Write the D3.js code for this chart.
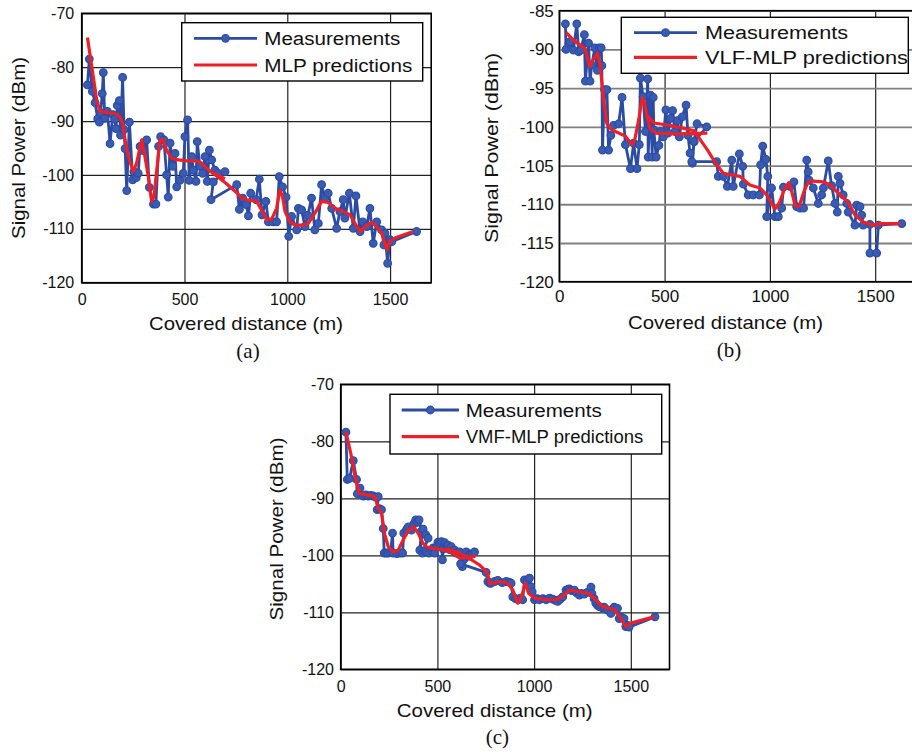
<!DOCTYPE html>
<html><head><meta charset="utf-8">
<script src="https://cdn.jsdelivr.net/npm/d3@7"></script>
<style>
body{margin:0;background:#fff;}
svg{display:block;}
text{font-family:"Liberation Sans",Arial,Helvetica,sans-serif;fill:#111;}
.cap{font-family:"Liberation Serif","Times New Roman",serif;}
</style></head>
<body><svg id="chart" width="912" height="752"></svg>
<script>
// ---------- DATA ----------
const xTicks = [0, 500, 1000, 1500];
const yTicksA = [-120, -110, -100, -90, -80, -70];
const yTicksB = [-120, -115, -110, -105, -100, -95, -90, -85];
const yTicksC = [-120, -110, -100, -90, -80, -70];

// Panel (a): measurements
const measDistA = [28,37,52,65,78,86,92,100,105,112,125,138,151,160,167,173,183,189,199,206,211,219,232,248,254,265,275,284,300,316,329,349,361,374,384,400,413,421,430,443,454,462,478,494,502,515,523,535,543,556,562,575,588,600,611,621,632,648,664,697,640,629,754,767,783,800,811,822,848,864,877,896,908,932,948,961,977,994,1007,1021,1046,1054,1070,1086,1100,1118,1134,1151,1167,1183,1199,1216,1240,1256,1272,1280,1302,1321,1334,1354,1367,1386,1402,1418,1435,1459,1470,1475,1488,1499,1508,1629];
const measPowA = [-83.3,-78.5,-84.5,-86.6,-89.6,-90.2,-88.5,-84.9,-81.0,-89.5,-88.2,-94.2,-88.8,-89.6,-91.4,-87.1,-86.2,-92.6,-81.9,-91.6,-95.1,-102.9,-90.2,-100.9,-99.4,-100.5,-99.7,-94.7,-95.5,-93.5,-102.3,-105.4,-105.4,-94.7,-92.9,-93.5,-100.0,-104.1,-94.1,-98.4,-96.0,-102.2,-101.0,-99.7,-92.9,-89.8,-101.0,-96.6,-99.1,-101.2,-93.8,-98.4,-99.7,-96.6,-101.2,-95.4,-97.2,-99.1,-99.7,-99.4,-101.3,-104.6,-101.8,-106.4,-104.3,-105.5,-107.6,-103.4,-104.6,-100.8,-107.4,-104.9,-108.7,-108.7,-108.7,-100.3,-102.2,-104.1,-111.4,-107.7,-110.2,-106.2,-106.5,-109.6,-107.5,-104.3,-110.2,-109.0,-101.8,-104.3,-103.4,-106.2,-109.9,-106.8,-104.6,-108.0,-103.4,-109.9,-103.9,-110.5,-108.7,-109.6,-106.2,-112.7,-108.7,-110.2,-113.0,-110.8,-116.4,-112.0,-112.4,-110.5];
// Panel (a): MLP predictions (null = break between passes)
const predDistA = [28,49,73,89,122,162,186,199,211,227,251,267,292,305,324,340,352,365,381,397,413,438,470,511,559,584,608,640,697,null,620,660,700,760,770,803,851,875,900,924,948,964,977,989,1013,1037,1078,1102,1134,1167,1199,1232,1272,1305,1329,1354,1378,1410,1435,1459,1486,1496,1523,1613];
const predPowA = [-74.5,-79.9,-86.1,-88.2,-88.4,-88.6,-89.2,-90.4,-93.5,-96.6,-99.4,-97.8,-93.5,-96.0,-100.3,-104.9,-104.0,-99.1,-93.5,-93.5,-95.4,-96.9,-97.2,-97.4,-97.4,-97.8,-98.8,-99.7,-100.7,null,-99.2,-100.3,-101.5,-103.5,-104.0,-104.6,-104.9,-106.5,-108.3,-108.2,-106.2,-102.8,-104.0,-106.8,-108.7,-109.3,-109.3,-109.0,-107.1,-104.9,-105.1,-106.2,-106.8,-107.4,-109.0,-110.5,-109.6,-108.8,-109.6,-110.8,-113.9,-112.4,-111.7,-110.5];

// Panel (b): measurements
const measDistB = [29,32,45,51,67,83,92,102,119,124,139,146,154,169,181,190,199,202,205,215,226,234,245,258,282,298,314,338,353,369,380,385,398,409,420,422,433,441,446,449,460,473,481,494,506,516,529,538,549,560,570,584,602,611,621,632,640,654,700,640,629,747,755,779,798,819,826,855,871,874,897,921,950,956,966,981,990,985,1008,1024,1040,1056,1064,1095,1114,1127,1143,1160,1175,1182,1187,1206,1230,1246,1254,1277,1293,1309,1320,1325,1333,1348,1365,1372,1404,1412,1428,1436,1443,1475,1475,1507,1515,1626];
const measPowB = [-86.7,-90.0,-89.2,-89.0,-90.1,-86.7,-90.3,-90.1,-88.1,-94.1,-89.2,-94.1,-92.0,-89.8,-92.7,-89.8,-89.8,-92.1,-103.0,-95.2,-95.2,-103.0,-101.1,-99.8,-99.6,-96.2,-102.3,-105.4,-102.1,-105.4,-102.3,-93.7,-96.1,-100.6,-93.8,-103.9,-95.9,-103.9,-96.2,-100.4,-103.9,-102.4,-100.6,-101.3,-97.8,-100.8,-98.9,-97.9,-100.6,-99.2,-101.3,-98.7,-97.2,-101.1,-103.4,-104.7,-101.9,-99.6,-100.0,-101.9,-104.5,-104.5,-106.4,-106.4,-107.7,-104.3,-107.7,-103.5,-105.1,-107.4,-108.8,-108.8,-108.8,-104.9,-102.5,-104.2,-106.4,-111.6,-107.9,-111.6,-111.6,-110.5,-107.8,-107.7,-107.1,-110.3,-110.5,-110.5,-104.3,-105.8,-106.9,-107.9,-109.9,-108.8,-107.9,-104.4,-107.6,-109.9,-111.0,-106.4,-107.3,-108.8,-109.9,-111.0,-112.7,-110.1,-110.3,-111.4,-112.7,-112.6,-116.3,-116.3,-112.7,-112.5];
// Panel (b): VLF-MLP predictions
const predDistB = [32,67,123,143,162,181,194,210,226,250,282,314,345,358,377,393,404,417,433,460,560,703,null,420,450,545,640,660,704,747,779,858,905,953,985,1024,1045,1070,1090,1105,1120,1140,1160,1180,1206,1254,1285,1333,1372,1404,1443,1491,1523,1618];
const predPowB = [-87.8,-88.8,-89.9,-92.2,-91.3,-90.5,-92.0,-96.5,-99.6,-100.4,-100.8,-101.2,-102.3,-101.7,-99.1,-96.3,-96.8,-98.7,-100.3,-100.8,-100.9,-100.8,null,-98.6,-99.5,-99.9,-100.5,-101.3,-103.0,-104.9,-106.0,-106.4,-107.5,-107.9,-108.8,-110.6,-109.8,-108.0,-107.2,-108.5,-110.2,-110.2,-108.5,-107.2,-107.0,-107.1,-107.5,-108.8,-109.7,-111.4,-112.3,-112.7,-112.5,-112.5];

// Panel (c): measurements
const measDistC = [27,34,46,65,82,86,100,117,130,143,155,168,180,194,189,200,211,220,225,236,246,258,268,271,290,306,320,326,340,349,366,378,388,398,405,417,409,426,440,452,423,433,443,456,469,478,486,495,503,512,521,526,530,538,547,555,563,572,580,589,598,606,615,629,636,649,658,667,680,692,620,752,761,770,778,795,812,835,856,870,881,890,904,916,930,941,950,963,976,983,990,1002,1015,1027,1045,1062,1080,1096,1110,1122,1135,1148,1165,1175,1182,1195,1208,1220,1234,1245,1259,1275,1294,1299,1310,1319,1328,1337,1350,1362,1380,1397,1414,1431,1440,1452,1465,1474,1483,1491,1625];
const measPowC = [-78.4,-86.7,-86.5,-83.4,-86.7,-89.2,-88.2,-89.6,-89.4,-89.6,-89.5,-89.6,-89.8,-89.7,-92.0,-91.8,-92.0,-95.3,-99.6,-99.6,-99.6,-99.5,-96.1,-99.6,-99.7,-99.6,-99.6,-96.1,-95.5,-95.0,-95.6,-94.5,-93.8,-94.2,-93.8,-95.8,-99.1,-95.4,-96.4,-97.0,-99.6,-99.2,-99.4,-99.6,-99.1,-98.7,-99.6,-98.5,-97.7,-98.0,-97.6,-100.8,-98.9,-97.8,-98.4,-98.2,-99.0,-98.5,-99.2,-99.1,-99.6,-99.5,-99.4,-102.0,-100.8,-99.4,-100.2,-99.9,-99.7,-99.4,-101.5,-103.0,-104.6,-104.9,-104.9,-104.6,-104.4,-104.8,-104.6,-104.7,-104.9,-107.3,-107.6,-107.8,-107.5,-107.8,-104.3,-104.5,-104.0,-105.5,-106.4,-107.8,-107.6,-107.8,-107.6,-107.8,-107.5,-107.7,-107.9,-108.1,-107.7,-107.3,-106.1,-106.0,-105.9,-106.2,-106.1,-106.6,-107.0,-106.7,-106.8,-106.5,-105.6,-106.7,-107.6,-108.4,-108.8,-109.0,-109.2,-109.1,-109.6,-110.2,-109.1,-109.3,-111.1,-110.9,-111.1,-112.5,-112.3,-112.6,-110.8];
// Panel (c): VMF-MLP predictions
const predDistC = [27,52,74,96,134,177,194,211,228,246,271,297,323,349,378,400,426,443,478,546,581,615,697,null,546,598,649,718,758,770,787,821,864,890,916,933,954,972,1002,1062,1113,1156,1182,1234,1285,1319,1354,1414,1448,1474,1500,1620];
const predPowC = [-78.4,-82.1,-86.2,-89.1,-89.4,-89.7,-91.8,-92.6,-96.4,-98.5,-99.4,-99.1,-97.3,-95.6,-95.0,-96.1,-97.9,-98.5,-98.8,-99.1,-99.6,-100.5,-100.2,null,-98.8,-99.4,-100.2,-101.7,-103.0,-104.9,-104.9,-104.6,-104.9,-106.1,-108.4,-107.5,-104.9,-106.7,-107.5,-107.8,-107.8,-107.0,-106.1,-106.4,-106.7,-107.8,-109.0,-109.5,-111.1,-112.5,-111.9,-110.8];

const legendA = ["Measurements", "MLP predictions"];
const legendB = ["Measurements", "VLF-MLP predictions"];
const legendC = ["Measurements", "VMF-MLP predictions"];
const xTitle = "Covered distance (m)";
const yTitle = "Signal Power (dBm)";

// ---------- DRAW ----------
const BLUE = "#2c4ca4", BLUE_FILL = "#3a5bb2", RED = "#ee1f26";
const svg = d3.select("#chart");

function zipPts(xs, ys){ return xs.map((x,i)=> (x==null||ys[i]==null) ? null : [x, ys[i]]); }

function panel(cfg){
  const g = svg.append("g");
  const x = d3.scaleLinear().domain([0,1700]).range([cfg.left, cfg.left + cfg.w]);
  const y = d3.scaleLinear().domain(cfg.ydom).range([cfg.top + cfg.h, cfg.top]);

  const ax = g.append("g").attr("transform", `translate(0,${cfg.top+cfg.h})`)
    .call(d3.axisBottom(x).tickValues(xTicks).tickSizeInner(-cfg.h).tickSizeOuter(0).tickPadding(cfg.xpad).tickFormat(d3.format("d")));
  ax.select(".domain").remove();
  ax.selectAll("line").attr("stroke", cfg.vgrid).attr("stroke-width", cfg.vgw);
  ax.selectAll("text").attr("font-size", cfg.tickFs).attr("fill","#111")
    .attr("font-family",'"Liberation Sans",Arial,sans-serif');

  const ay = g.append("g").attr("transform", `translate(${cfg.left},0)`)
    .call(d3.axisLeft(y).tickValues(cfg.yticks).tickSizeInner(-cfg.w).tickSizeOuter(0).tickPadding(cfg.ypad).tickFormat(d=>String(d)));
  ay.select(".domain").remove();
  ay.selectAll("line").attr("stroke", cfg.hgrid).attr("stroke-width", cfg.hgw);
  ay.selectAll("text").attr("font-size", cfg.tickFs).attr("fill","#111")
    .attr("font-family",'"Liberation Sans",Arial,sans-serif');

  g.append("rect").attr("x", cfg.left).attr("y", cfg.top).attr("width", cfg.w).attr("height", cfg.h)
    .attr("fill","none").attr("stroke","#000").attr("stroke-width",1.6);

  const line = d3.line().defined(d=>d!=null).x(d=>x(d[0])).y(d=>y(d[1]));
  const meas = zipPts(cfg.md, cfg.mp);
  const pred = zipPts(cfg.pd, cfg.pp);

  g.append("path").datum(meas).attr("d", line).attr("fill","none")
    .attr("stroke", BLUE).attr("stroke-width", 2.8).attr("stroke-linejoin","round");
  g.selectAll("circle.m").data(meas).join("circle").attr("class","m")
    .attr("cx", d=>x(d[0])).attr("cy", d=>y(d[1])).attr("r", 3.8)
    .attr("fill", BLUE_FILL).attr("stroke", BLUE).attr("stroke-width", 1.2);
  g.append("path").datum(pred).attr("d", line).attr("fill","none")
    .attr("stroke", RED).attr("stroke-width", 3.2).attr("stroke-linejoin","round");

  const L = cfg.leg;
  g.append("rect").attr("x", L.x0).attr("y", L.y0).attr("width", L.x1-L.x0).attr("height", L.y1-L.y0)
    .attr("fill","#fff").attr("stroke","#000").attr("stroke-width",1.4);
  g.append("line").attr("x1", L.s0).attr("x2", L.s1).attr("y1", L.r1).attr("y2", L.r1)
    .attr("stroke", BLUE).attr("stroke-width", 2.8);
  g.append("circle").attr("cx", (L.s0+L.s1)/2).attr("cy", L.r1).attr("r", 3.8)
    .attr("fill", BLUE_FILL).attr("stroke", BLUE).attr("stroke-width", 1.2);
  g.append("line").attr("x1", L.s0).attr("x2", L.s1).attr("y1", L.r2).attr("y2", L.r2)
    .attr("stroke", RED).attr("stroke-width", 3.2);
  g.append("text").attr("x", L.tx).attr("y", L.r1 + 6.5).attr("font-size", 18)
    .attr("textLength", L.w1).attr("lengthAdjust","spacingAndGlyphs").text(cfg.labels[0]);
  g.append("text").attr("x", L.tx).attr("y", L.r2 + 6.5).attr("font-size", 18)
    .attr("textLength", L.w2).attr("lengthAdjust","spacingAndGlyphs").text(cfg.labels[1]);

  g.append("text").attr("x", cfg.xt[0]).attr("y", cfg.xt[1]).attr("text-anchor","middle")
    .attr("font-size", 19).attr("textLength", cfg.xt[2]).attr("lengthAdjust","spacingAndGlyphs").text(xTitle);
  g.append("text").attr("transform", `translate(${cfg.yt[0]},${cfg.yt[1]}) rotate(-90)`)
    .attr("text-anchor","middle").attr("dominant-baseline","central")
    .attr("font-size", 19).attr("textLength", cfg.yt[2]).attr("lengthAdjust","spacingAndGlyphs").text(yTitle);
  g.append("text").attr("class","cap").attr("x", cfg.cap[0]).attr("y", cfg.cap[1]).attr("text-anchor","middle")
    .attr("font-size", 21).text(cfg.cap[2]);
}

panel({left:81.7, top:13.3, w:349.5, h:269.4, ydom:[-120,-70], yticks:yTicksA,
  md:measDistA, mp:measPowA, pd:predDistA, pp:predPowA, labels:legendA,
  xpad:11, ypad:7.5, tickFs:16, vgrid:"#222", vgw:1.2, hgrid:"#222", hgw:1.2,
  leg:{x0:181.7,y0:22.7,x1:422.7,y1:81, s0:194,s1:257, r1:38.3, r2:65, tx:264.3, w1:136, w2:148},
  xt:[246,330,194], yt:[18.5,148,182], cap:[248,358,"(a)"]});

panel({left:559.3, top:10.7, w:358, h:271, ydom:[-120,-85], yticks:yTicksB,
  md:measDistB, mp:measPowB, pd:predDistB, pp:predPowB, labels:legendB,
  xpad:8.5, ypad:5.5, tickFs:17, vgrid:"#222", vgw:1.2, hgrid:"#808080", hgw:1.8,
  leg:{x0:621.3,y0:17.3,x1:908.3,y1:73.3, s0:634,s1:697, r1:32.7, r2:57.3, tx:705, w1:143, w2:203},
  xt:[725.5,329,195], yt:[491,148,190], cap:[729,357,"(b)"]});

panel({left:340.7, top:384.3, w:328.8, h:285, ydom:[-120,-70], yticks:yTicksC,
  md:measDistC, mp:measPowC, pd:predDistC, pp:predPowC, labels:legendC,
  xpad:11, ypad:6.7, tickFs:16, vgrid:"#222", vgw:1.2, hgrid:"#222", hgw:1.2,
  leg:{x0:390,y0:394.3,x1:661.7,y1:454, s0:401.7,s1:459, r1:410, r2:436.7, tx:465.7, w1:136, w2:177.6},
  xt:[494.7,716.7,196], yt:[276.5,529,183], cap:[497.3,744,"(c)"]});
</script>
</body></html>
